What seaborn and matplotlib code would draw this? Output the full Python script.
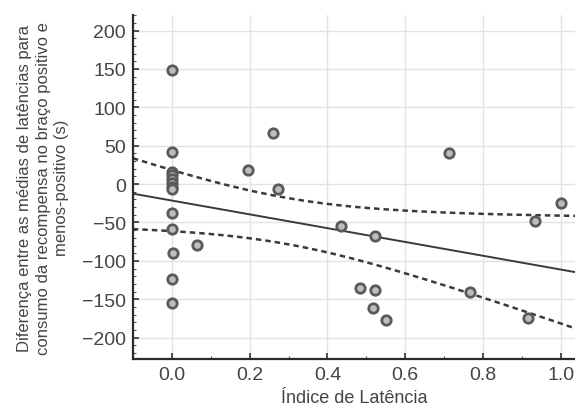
"""Scatter of latency index vs. difference of latency means, with linear fit and 95% band."""

import numpy as np
import pandas as pd
import matplotlib
matplotlib.use("Agg")
import matplotlib.pyplot as plt
from matplotlib.ticker import AutoMinorLocator, MultipleLocator
import seaborn as sns

indice_latencia = [
    0.0, 0.0, 0.0, 0.0, 0.0, 0.0, 0.0, 0.0, 0.0, 0.0, 0.003, 0.0, 0.0,
    0.064, 0.197, 0.26, 0.273, 0.435, 0.483, 0.522, 0.522, 0.517, 0.55,
    0.713, 0.767, 0.914, 0.933, 1.0,
]
diferenca_medias = [
    148, 42, 16, 12, 6.5, 1, -4, -7, -37, -59, -90, -123.5, -155,
    -79, 18, 66, -7, -54, -135, -68, -138, -162, -177,
    40, -140, -175, -48, -24,
]
y_ticks = [-200, -150, -100, -50, 0, 50, 100, 150, 200]
x_ticks = [0.0, 0.2, 0.4, 0.6, 0.8, 1.0]

TEXT = "#444444"


def make_chart():
    df = pd.DataFrame({"x": indice_latencia, "y": diferenca_medias})

    sns.set_theme(style="white")
    plt.rcParams["font.family"] = ["Liberation Sans", "DejaVu Sans"]

    fig = plt.figure(figsize=(5.75, 4.14), dpi=100)
    ax = fig.add_axes([0.231, 0.130, 0.769, 0.831])
    ax.set_xlim(-0.1, 1.036)
    ax.set_ylim(-228, 220)

    ax.grid(True, color="#e2e2e2", linewidth=1.0)
    ax.set_axisbelow(True)

    sns.regplot(
        data=df, x="x", y="y", ci=None, truncate=False, ax=ax,
        scatter_kws={"s": 46, "facecolor": "#bdbdbd", "edgecolor": "#5a5a5a",
                     "linewidths": 2.0, "alpha": 1, "zorder": 3},
        line_kws={"color": "#3a3a3a", "linewidth": 1.4, "zorder": 2},
    )

    # 95% confidence band for the fitted mean (drawn as dashed lines)
    x = np.asarray(indice_latencia, dtype=float)
    y = np.asarray(diferenca_medias, dtype=float)
    n = len(x)
    slope, intercept = np.polyfit(x, y, 1)
    resid = y - (slope * x + intercept)
    s = np.sqrt(np.sum(resid ** 2) / (n - 2))
    sxx = np.sum((x - x.mean()) ** 2)
    grid = np.linspace(*ax.get_xlim(), 200)
    fit = slope * grid + intercept
    half = 2.056 * s * np.sqrt(1 / n + (grid - x.mean()) ** 2 / sxx)
    for band in (fit + half, fit - half):
        ax.plot(grid, band, color="#3a3a3a", linewidth=1.8,
                linestyle=(0, (2.2, 1.6)), zorder=2)

    ax.set_xticks(x_ticks)
    ax.set_xticklabels([f"{t:.1f}" for t in x_ticks])
    ax.set_yticks(y_ticks)
    ax.xaxis.set_minor_locator(MultipleLocator(0.1))
    ax.yaxis.set_minor_locator(AutoMinorLocator(5))
    ax.tick_params(axis="both", which="major", direction="in", length=4,
                   width=1.2, color="#333333", labelsize=14, labelcolor=TEXT, pad=5)
    ax.tick_params(axis="both", which="minor", direction="in", length=2,
                   width=0.8, color="#555555")
    ax.tick_params(axis="x", which="both", bottom=True)
    ax.tick_params(axis="y", which="both", left=True)

    for side in ("top", "right"):
        ax.spines[side].set_visible(False)
    for side in ("left", "bottom"):
        ax.spines[side].set_color("#2b2b2b")
        ax.spines[side].set_linewidth(1.6)

    ax.set_xlabel("Índice de Latência", fontsize=13, color=TEXT, labelpad=4)
    ax.set_ylabel(
        "Diferença entre as médias de latências para\n"
        "consumo da recompensa no braço positivo e\n"
        "menos-positivo (s)",
        fontsize=12, color=TEXT, linespacing=1.3, labelpad=9,
    )

    fig.savefig("out.png", dpi=100)
    plt.close(fig)


if __name__ == "__main__":
    make_chart()
